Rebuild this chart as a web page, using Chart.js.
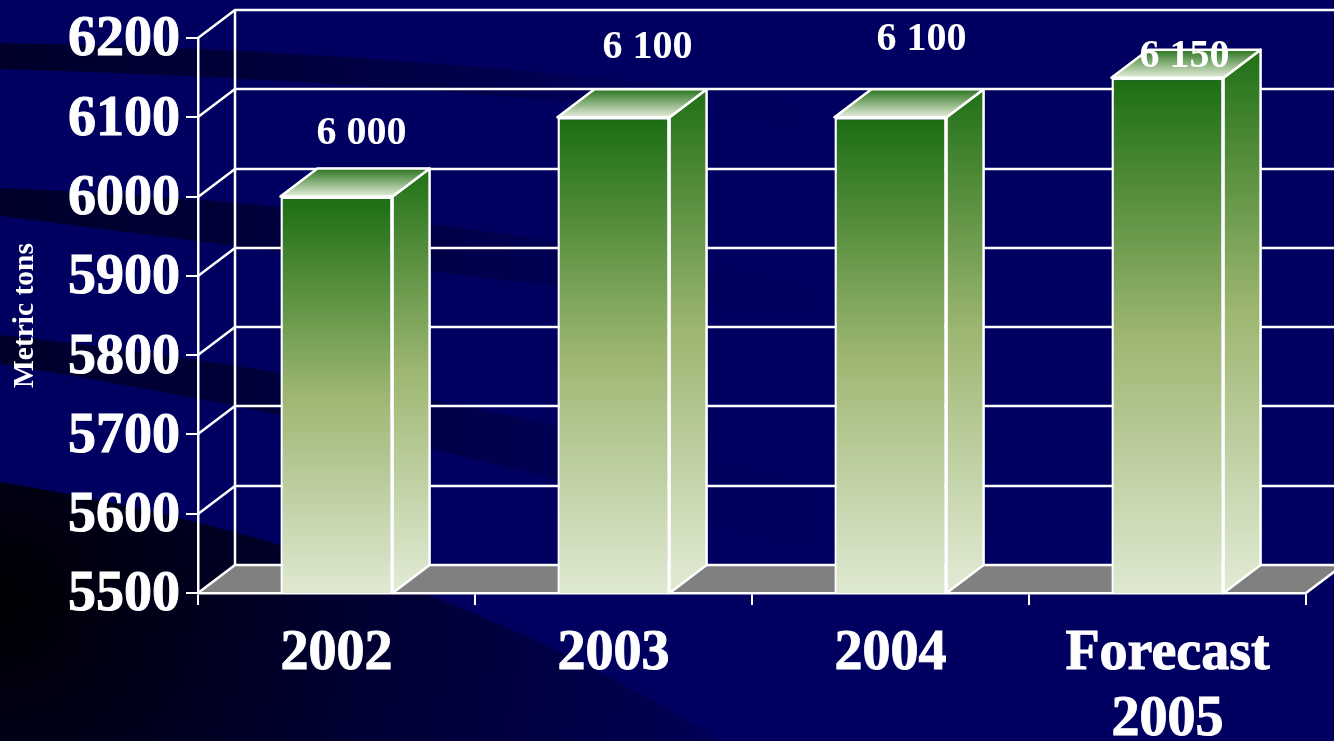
<!DOCTYPE html>
<html>
<head>
<meta charset="utf-8">
<title>Metric tons</title>
<script src="https://cdn.jsdelivr.net/npm/chart.js@4"></script>
<style>
  html, body { margin: 0; padding: 0; background: #000060; overflow: hidden; }
  canvas { display: block; }
</style>
</head>
<body>
<canvas id="tonsChart" width="1334" height="741"></canvas>
<script>
// Data
const categories = ['2002', '2003', '2004', ['Forecast', '2005']];
const tonnage = [6000, 6100, 6100, 6150];
const valueLabels = ['6 000', '6 100', '6 100', '6 150'];
const axisMin = 5500;
const axisMax = 6200;
const axisStep = 100;

const depthX = 37;
const depthY = 28;
const serif = '"Liberation Serif", "Times New Roman", serif';

function barGradient(ctx, top, bottom) {
  const g = ctx.createLinearGradient(0, top, 0, bottom);
  g.addColorStop(0, '#1b6d13');
  g.addColorStop(0.5, '#9db671');
  g.addColorStop(1, '#dfe9d2');
  return g;
}

function band(ctx, pts, x0, x1, dark) {
  const g = ctx.createLinearGradient(x0, 0, x1, 0);
  g.addColorStop(0, dark);
  g.addColorStop(0.3, 'rgba(0,0,44,0.75)');
  g.addColorStop(0.6, 'rgba(0,0,44,0.35)');
  g.addColorStop(1, 'rgba(0,0,96,0)');
  ctx.fillStyle = g;
  ctx.beginPath();
  ctx.moveTo(pts[0], pts[1]);
  ctx.quadraticCurveTo(pts[2], pts[3], pts[4], pts[5]);
  ctx.lineTo(pts[6], pts[7]);
  ctx.quadraticCurveTo(pts[8], pts[9], pts[10], pts[11]);
  ctx.closePath();
  ctx.fill();
}

// Slide background, floor and the back wall
const backdrop = {
  id: 'backdrop',
  beforeDraw(chart) {
    const ctx = chart.ctx;
    const { left, right, bottom } = chart.chartArea;
    const y = chart.scales.y;
    ctx.save();
    ctx.fillStyle = '#000060';
    ctx.fillRect(0, 0, chart.width, chart.height);

    band(ctx, [0, 43, 420, 50, 830, 105, 830, 130, 420, 80, 0, 69], 0, 830, '#00002a');
    band(ctx, [0, 188, 420, 205, 840, 292, 840, 322, 420, 270, 0, 216], 0, 840, '#00002a');
    band(ctx, [0, 335, 420, 380, 840, 495, 840, 560, 420, 430, 0, 364], 0, 840, '#00002a');

    // big dark sweep in the bottom left corner
    const g = ctx.createRadialGradient(0, 600, 20, 0, 600, 740);
    g.addColorStop(0, '#000006');
    g.addColorStop(0.4, '#00002c');
    g.addColorStop(1, '#000056');
    ctx.fillStyle = g;
    ctx.beginPath();
    ctx.moveTo(0, 482);
    ctx.quadraticCurveTo(420, 550, 720, 741);
    ctx.lineTo(0, 741);
    ctx.closePath();
    ctx.fill();

    // floor
    ctx.fillStyle = '#808080';
    ctx.beginPath();
    ctx.moveTo(left, bottom);
    ctx.lineTo(left + depthX, bottom - depthY);
    ctx.lineTo(right + depthX, bottom - depthY);
    ctx.lineTo(right, bottom);
    ctx.closePath();
    ctx.fill();

    // wall lines
    ctx.strokeStyle = '#ffffff';
    ctx.lineWidth = 2.5;
    y.ticks.forEach(t => {
      const py = Math.round(y.getPixelForValue(t.value));
      ctx.beginPath();
      ctx.moveTo(left, py);
      ctx.lineTo(left + depthX, py - depthY);
      ctx.lineTo(chart.width, py - depthY);
      ctx.stroke();
    });
    ctx.beginPath();
    ctx.moveTo(left + depthX, y.getPixelForValue(axisMax) - depthY);
    ctx.lineTo(left + depthX, bottom - depthY);
    ctx.stroke();
    ctx.beginPath();
    ctx.moveTo(right, bottom);
    ctx.lineTo(right + depthX, bottom - depthY);
    ctx.stroke();
    ctx.restore();
  }
};

// Top and side faces of the bars, then the value labels
const labelShift = [[25, -63], [34, -70], [31, -78], [17, -21]];
const bars3d = {
  id: 'bars3d',
  afterDatasetsDraw(chart) {
    const ctx = chart.ctx;
    const meta = chart.getDatasetMeta(0);
    const floor = chart.chartArea.bottom;
    ctx.save();
    ctx.strokeStyle = '#ffffff';
    ctx.lineWidth = 2.5;
    ctx.lineJoin = 'round';
    meta.data.forEach(bar => {
      const half = bar.width / 2;
      const l = bar.x - half;
      const r = bar.x + half;
      const t = bar.y;

      ctx.fillStyle = barGradient(ctx, t - depthY - 10, floor - depthY * 0.4);
      ctx.beginPath();
      ctx.moveTo(r, t);
      ctx.lineTo(r + depthX, t - depthY);
      ctx.lineTo(r + depthX, floor - depthY);
      ctx.lineTo(r, floor);
      ctx.closePath();
      ctx.fill();
      ctx.stroke();

      const g = ctx.createLinearGradient(0, t - depthY, 0, t);
      g.addColorStop(0, '#2b7520');
      g.addColorStop(1, '#e6eedb');
      ctx.fillStyle = g;
      ctx.beginPath();
      ctx.moveTo(l, t);
      ctx.lineTo(l + depthX, t - depthY);
      ctx.lineTo(r + depthX, t - depthY);
      ctx.lineTo(r, t);
      ctx.closePath();
      ctx.fill();
      ctx.stroke();
    });

    ctx.fillStyle = '#ffffff';
    ctx.font = 'bold 40px ' + serif;
    ctx.textAlign = 'center';
    ctx.textBaseline = 'middle';
    meta.data.forEach((bar, i) => {
      ctx.fillText(valueLabels[i], bar.x + labelShift[i][0], bar.y + labelShift[i][1]);
    });
    ctx.restore();
  }
};

new Chart(document.getElementById('tonsChart'), {
  type: 'bar',
  plugins: [backdrop, bars3d],
  data: {
    labels: categories,
    datasets: [{
      label: 'Metric tons',
      data: tonnage,
      backgroundColor(c) {
        const area = c.chart.chartArea;
        if (!area || !c.parsed) return '#9db671';
        return barGradient(c.chart.ctx, c.chart.scales.y.getPixelForValue(c.parsed.y), area.bottom);
      },
      borderColor: '#ffffff',
      borderWidth: 2.5,
      borderSkipped: false,
      categoryPercentage: 1,
      barPercentage: 0.405
    }]
  },
  options: {
    responsive: false,
    animation: false,
    layout: { padding: { top: 38, right: 28, left: 0, bottom: 0 } },
    plugins: { legend: { display: false }, tooltip: { enabled: false } },
    scales: {
      x: {
        afterFit(s) { s.height = 148; s.paddingLeft = 0; s.paddingRight = 0; },
        grid: { drawOnChartArea: false, offset: true, color: '#ffffff', lineWidth: 2, tickLength: 12 },
        border: { display: true, color: '#ffffff', width: 2.5 },
        ticks: {
          color: '#ffffff',
          padding: 16,
          maxRotation: 0,
          textStrokeColor: '#ffffff',
          textStrokeWidth: 1,
          font: { family: serif, weight: 'bold', size: 56, lineHeight: 1.18 }
        }
      },
      y: {
        min: axisMin,
        max: axisMax,
        afterFit(s) { s.width = 198; s.paddingTop = 0; s.paddingBottom = 0; },
        grid: { drawOnChartArea: false, color: '#ffffff', lineWidth: 2, tickLength: 12 },
        border: { display: true, color: '#ffffff', width: 2.5 },
        ticks: {
          stepSize: axisStep,
          color: '#ffffff',
          padding: 6,
          labelOffset: 3,
          textStrokeColor: '#ffffff',
          textStrokeWidth: 1,
          callback: v => String(v),
          font: { family: serif, weight: 'bold', size: 56 }
        },
        title: {
          display: true,
          text: 'Metric tons',
          color: '#ffffff',
          padding: { top: 8, bottom: 0 },
          font: { family: serif, weight: 'bold', size: 29.5, lineHeight: 1.2 }
        }
      }
    }
  }
});
</script>
</body>
</html>
